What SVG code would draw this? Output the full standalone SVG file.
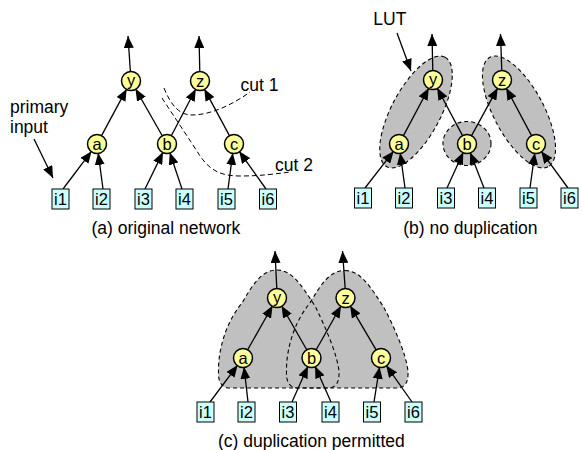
<svg xmlns="http://www.w3.org/2000/svg" width="582" height="450" viewBox="0 0 582 450">
  <defs>
    <style>
      text { font-family: "Liberation Sans", Arial, sans-serif; fill: #000; }
      .lbl { font-size: 17.5px; }
      .nt { font-size: 16.5px; text-anchor: middle; }
      .bt { font-size: 16.5px; text-anchor: middle; }
      .node circle { fill: #ffff99; stroke: #000; stroke-width: 1.5; }
      .inp rect { fill: #ccffff; stroke: #000; stroke-width: 1; }
      .edge line { stroke: #000; stroke-width: 1.3; marker-end: url(#arrow); }
      .cut { fill: none; stroke: #000; stroke-width: 1; stroke-dasharray: 5 3; }
      .lut-fill { fill: #c0c0c0; stroke: none; }
      .lut-edge { fill: none; stroke: #000; stroke-width: 1.1; stroke-dasharray: 4 3; }
    </style>
    <marker id="arrow" markerUnits="userSpaceOnUse" markerWidth="12" markerHeight="10" refX="12" refY="5" orient="auto">
      <path d="M0,0 L12,5 L0,10 Z" fill="#000"/>
    </marker>
    <!-- LUT covers for the duplicated mapping -->
    <path id="cover-left" d="M277,270 C293,270 303,288 315,306 C325,326 338,356 339,372 C339.5,382 336,388 328,388 L230,388 C222,388 218,382 218.5,372 C218,350 226,322 242,303 C252,286 261,270 277,270 Z"/>
    <path id="cover-right" d="M345,270.5 C361,270.5 371,288 383,306 C394,326 407,356 408,372 C408.5,382 405,388 397,388 L298,388 C290,388 286,382 286.5,372 C286,350 294,322 310,303 C320,286 329,270.5 345,270.5 Z"/>
  </defs>

  <!-- (a) original network -->
  <g id="panel-a">
    <g id="cuts-a">
      <path class="cut" d="M164,88 C170,103 178,115 192,115 C212,115 235,103 250,92"/>
      <path class="cut" d="M162,98 C175,118 190,140 200,156 C210,170 220,176 240,176 C260,176 275,174 290,172"/>
    </g>
    <g id="connectors-a" class="edge">
      <line x1="63" y1="189" x2="91.6" y2="151.2"/>
      <line x1="103" y1="189" x2="98.2" y2="152.9"/>
      <line x1="145" y1="189" x2="163" y2="152.1"/>
      <line x1="182" y1="189" x2="169.8" y2="152.5"/>
      <line x1="228" y1="189" x2="232.8" y2="152.9"/>
      <line x1="266" y1="189" x2="239.2" y2="151.3"/>
      <line x1="101.3" y1="136.1" x2="126.7" y2="88.9"/>
      <line x1="162.5" y1="136.2" x2="135.5" y2="88.8"/>
      <line x1="171.2" y1="136" x2="195.8" y2="89"/>
      <line x1="229.7" y1="136.1" x2="204.3" y2="88.9"/>
      <line x1="130.4" y1="72" x2="128" y2="36"/>
      <line x1="199.8" y1="72" x2="199" y2="36"/>
      <line x1="34" y1="139" x2="53" y2="178"/>
    </g>
    <g id="a-y" class="node"><circle cx="131" cy="81" r="9.5"/><text class="nt" x="131" y="86">y</text></g>
    <g id="a-z" class="node"><circle cx="200" cy="81" r="9.5"/><text class="nt" x="200" y="86.5">z</text></g>
    <g id="a-a" class="node"><circle cx="97" cy="144" r="9.5"/><text class="nt" x="97" y="149.5">a</text></g>
    <g id="a-b" class="node"><circle cx="167" cy="144" r="9.5"/><text class="nt" x="167" y="150">b</text></g>
    <g id="a-c" class="node"><circle cx="234" cy="144" r="9.5"/><text class="nt" x="234" y="149.5">c</text></g>
    <g id="a-i1" class="inp"><rect x="52" y="189" width="17" height="20"/><text class="bt" x="60.5" y="205">i1</text></g>
    <g id="a-i2" class="inp"><rect x="93" y="189" width="17" height="20"/><text class="bt" x="101.5" y="205">i2</text></g>
    <g id="a-i3" class="inp"><rect x="135" y="189" width="17" height="20"/><text class="bt" x="143.5" y="205">i3</text></g>
    <g id="a-i4" class="inp"><rect x="176" y="189" width="17" height="20"/><text class="bt" x="184.5" y="205">i4</text></g>
    <g id="a-i5" class="inp"><rect x="218" y="189" width="17" height="20"/><text class="bt" x="226.5" y="205">i5</text></g>
    <g id="a-i6" class="inp"><rect x="259.5" y="189" width="17" height="20"/><text class="bt" x="268" y="205">i6</text></g>
    <text class="lbl" x="10" y="112.5">primary</text>
    <text class="lbl" x="10" y="132.5">input</text>
    <text class="lbl" x="240.5" y="90.5">cut 1</text>
    <text class="lbl" x="275" y="170.5">cut 2</text>
    <text class="lbl" x="91.5" y="234">(a) original network</text>
  </g>

  <!-- (b) no duplication -->
  <g id="panel-b">
    <g id="luts-b">
      <ellipse class="lut-fill" cx="416" cy="112" rx="62" ry="24.5" transform="rotate(-62 416 112)"/>
      <ellipse class="lut-edge" cx="416" cy="112" rx="62" ry="24.5" transform="rotate(-62 416 112)"/>
      <ellipse class="lut-fill" cx="519" cy="112" rx="62" ry="25" transform="rotate(62 519 112)"/>
      <ellipse class="lut-edge" cx="519" cy="112" rx="62" ry="25" transform="rotate(62 519 112)"/>
      <ellipse class="lut-fill" cx="467" cy="143.5" rx="24" ry="22"/>
      <ellipse class="lut-edge" cx="467" cy="143.5" rx="24" ry="22"/>
    </g>
    <g id="connectors-b" class="edge">
      <line x1="365" y1="188" x2="393.6" y2="151.2"/>
      <line x1="405" y1="188" x2="400.2" y2="152.9"/>
      <line x1="447" y1="188" x2="463.3" y2="152.2"/>
      <line x1="484" y1="188" x2="470.2" y2="152.4"/>
      <line x1="530" y1="188" x2="534.8" y2="152.9"/>
      <line x1="568" y1="188" x2="541.2" y2="151.3"/>
      <line x1="403.2" y1="136.1" x2="428.8" y2="88"/>
      <line x1="462.8" y1="136.1" x2="437.2" y2="88"/>
      <line x1="471.3" y1="136.1" x2="497.7" y2="87.9"/>
      <line x1="531.8" y1="136.1" x2="506.2" y2="88"/>
      <line x1="432.8" y1="71" x2="432" y2="34"/>
      <line x1="501.8" y1="71" x2="500.5" y2="34"/>
      <line x1="397" y1="33" x2="411" y2="71"/>
    </g>
    <g id="b-y" class="node"><circle cx="433" cy="80" r="9.5"/><text class="nt" x="433" y="85">y</text></g>
    <g id="b-z" class="node"><circle cx="502" cy="80" r="9.5"/><text class="nt" x="502" y="85.5">z</text></g>
    <g id="b-a" class="node"><circle cx="399" cy="144" r="9.5"/><text class="nt" x="399" y="149.5">a</text></g>
    <g id="b-b" class="node"><circle cx="467" cy="144" r="9.5"/><text class="nt" x="467" y="150">b</text></g>
    <g id="b-c" class="node"><circle cx="536" cy="144" r="9.5"/><text class="nt" x="536" y="149.5">c</text></g>
    <g id="b-i1" class="inp"><rect x="354.5" y="188" width="17" height="20"/><text class="bt" x="363" y="204">i1</text></g>
    <g id="b-i2" class="inp"><rect x="395.5" y="188" width="17" height="20"/><text class="bt" x="404" y="204">i2</text></g>
    <g id="b-i3" class="inp"><rect x="437.5" y="188" width="17" height="20"/><text class="bt" x="446" y="204">i3</text></g>
    <g id="b-i4" class="inp"><rect x="478.5" y="188" width="17" height="20"/><text class="bt" x="487" y="204">i4</text></g>
    <g id="b-i5" class="inp"><rect x="520" y="188" width="17" height="20"/><text class="bt" x="528.5" y="204">i5</text></g>
    <g id="b-i6" class="inp"><rect x="561" y="188" width="17" height="20"/><text class="bt" x="569.5" y="204">i6</text></g>
    <text class="lbl" x="373.3" y="25">LUT</text>
    <text class="lbl" x="403.3" y="234">(b) no duplication</text>
  </g>

  <!-- (c) duplication permitted -->
  <g id="panel-c">
    <g id="luts-c">
      <use href="#cover-left" class="lut-fill"/>
      <use href="#cover-right" class="lut-fill"/>
      <use href="#cover-left" class="lut-edge"/>
      <use href="#cover-right" class="lut-edge"/>
    </g>
    <g id="connectors-c" class="edge">
      <line x1="210" y1="402" x2="237.6" y2="365.2"/>
      <line x1="248" y1="402" x2="244" y2="366.9"/>
      <line x1="292" y1="402" x2="307.9" y2="366.2"/>
      <line x1="331" y1="402" x2="315.1" y2="366.2"/>
      <line x1="374" y1="402" x2="379.6" y2="366.9"/>
      <line x1="412" y1="402" x2="386.2" y2="365.4"/>
      <line x1="247.4" y1="350.2" x2="272.6" y2="305.8"/>
      <line x1="307" y1="350.2" x2="281.5" y2="305.8"/>
      <line x1="315.9" y1="350.2" x2="341.1" y2="305.8"/>
      <line x1="376.4" y1="350.3" x2="350.1" y2="305.7"/>
      <line x1="276.8" y1="289" x2="275" y2="251"/>
      <line x1="345.2" y1="289" x2="342.5" y2="251"/>
    </g>
    <g id="c-y" class="node"><circle cx="277" cy="298" r="9.5"/><text class="nt" x="277" y="303">y</text></g>
    <g id="c-z" class="node"><circle cx="345.5" cy="298" r="9.5"/><text class="nt" x="345.5" y="303.5">z</text></g>
    <g id="c-a" class="node"><circle cx="243" cy="358" r="9.5"/><text class="nt" x="243" y="363.5">a</text></g>
    <g id="c-b" class="node"><circle cx="311.5" cy="358" r="9.5"/><text class="nt" x="311.5" y="364">b</text></g>
    <g id="c-c" class="node"><circle cx="381" cy="358" r="9.5"/><text class="nt" x="381" y="363.5">c</text></g>
    <g id="c-i1" class="inp"><rect x="197" y="402" width="17" height="20"/><text class="bt" x="205.5" y="418">i1</text></g>
    <g id="c-i2" class="inp"><rect x="238" y="402" width="17" height="20"/><text class="bt" x="246.5" y="418">i2</text></g>
    <g id="c-i3" class="inp"><rect x="279.5" y="402" width="17" height="20"/><text class="bt" x="288" y="418">i3</text></g>
    <g id="c-i4" class="inp"><rect x="322" y="402" width="17" height="20"/><text class="bt" x="330.5" y="418">i4</text></g>
    <g id="c-i5" class="inp"><rect x="363.5" y="402" width="17" height="20"/><text class="bt" x="372" y="418">i5</text></g>
    <g id="c-i6" class="inp"><rect x="405" y="402" width="17" height="20"/><text class="bt" x="413.5" y="418">i6</text></g>
    <text class="lbl" x="218" y="447">(c) duplication permitted</text>
  </g>
</svg>
